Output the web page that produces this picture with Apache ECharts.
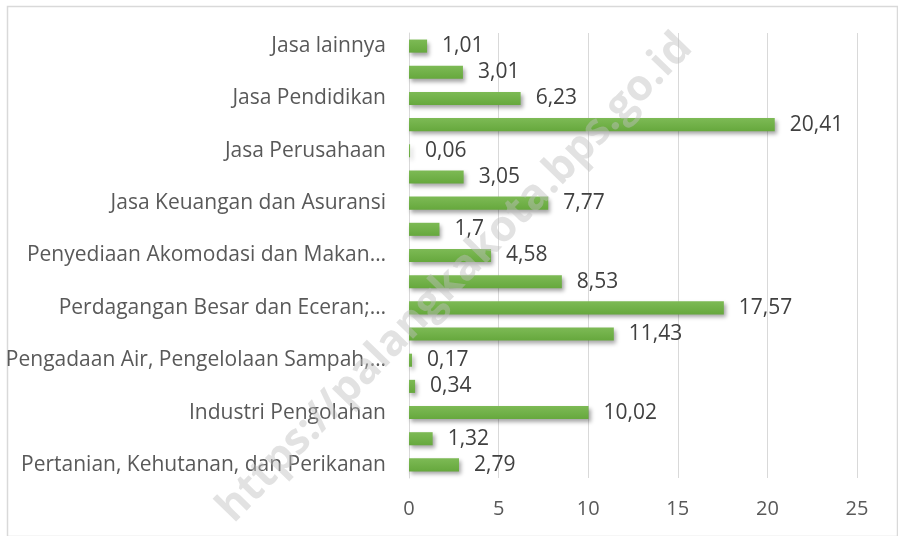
<!DOCTYPE html>
<html>
<head>
<meta charset="utf-8">
<script src="https://cdn.jsdelivr.net/npm/echarts@6/dist/echarts.min.js"></script>
<style>
  html, body { margin: 0; padding: 0; background: #fff; }
  #chart { width: 898px; height: 536px; }
</style>
</head>
<body>
<div id="chart"></div>
<script>
// sektor, urut dari bawah ke atas
var sectors = [
  'Pertanian, Kehutanan, dan Perikanan',
  'Pertambangan dan Penggalian',
  'Industri Pengolahan',
  'Pengadaan Listrik dan Gas',
  'Pengadaan Air, Pengelolaan Sampah, Limbah dan Daur Ulang',
  'Konstruksi',
  'Perdagangan Besar dan Eceran; Reparasi Mobil dan Sepeda Motor',
  'Transportasi dan Pergudangan',
  'Penyediaan Akomodasi dan Makan Minum',
  'Informasi dan Komunikasi',
  'Jasa Keuangan dan Asuransi',
  'Real Estat',
  'Jasa Perusahaan',
  'Administrasi Pemerintahan, Pertahanan dan Jaminan Sosial Wajib',
  'Jasa Pendidikan',
  'Jasa Kesehatan dan Kegiatan Sosial',
  'Jasa lainnya'
];
// teks yang terlihat di sumbu (Excel memotong label panjang)
var shownLabels = {
  'Pengadaan Air, Pengelolaan Sampah, Limbah dan Daur Ulang': 'Pengadaan Air, Pengelolaan Sampah,…',
  'Perdagangan Besar dan Eceran; Reparasi Mobil dan Sepeda Motor': 'Perdagangan Besar dan Eceran;…',
  'Penyediaan Akomodasi dan Makan Minum': 'Penyediaan Akomodasi dan Makan…'
};
var values = [2.79, 1.32, 10.02, 0.34, 0.17, 11.43, 17.57, 8.53, 4.58, 1.7, 7.77, 3.05, 0.06, 20.41, 6.23, 3.01, 1.01];
var xTicks = [0, 5, 10, 15, 20, 25];

var font = 'Open Sans';
var chart = echarts.init(document.getElementById('chart'));

var option = {
  animation: false,
  textStyle: { fontFamily: font },
  grid: { left: 409, right: 41, top: 33, bottom: 58 },
  xAxis: {
    type: 'value',
    min: xTicks[0],
    max: xTicks[xTicks.length - 1],
    interval: 5,
    axisLine: { show: false },
    axisTick: { show: false },
    splitLine: { lineStyle: { color: '#d9d9d9', width: 1 } },
    axisLabel: { color: '#595959', fontSize: 20, fontFamily: font, margin: 21 }
  },
  yAxis: {
    type: 'category',
    data: sectors,
    axisLine: { lineStyle: { color: '#d9d9d9' } },
    axisTick: { show: false },
    axisLabel: {
      interval: 1,
      color: '#595959',
      fontSize: 21,
      fontFamily: font,
      margin: 23,
      formatter: function (v) { return shownLabels[v] || v; }
    }
  },
  series: [{
    type: 'bar',
    data: values,
    barWidth: '50%',
    itemStyle: {
      color: new echarts.graphic.LinearGradient(0, 0, 0, 1, [
        { offset: 0, color: '#7dba55' },
        { offset: 1, color: '#66a83d' }
      ]),
      shadowColor: 'rgba(0,0,0,0.35)',
      shadowBlur: 4,
      shadowOffsetX: 2,
      shadowOffsetY: 3
    },
    label: {
      show: true,
      position: 'right',
      distance: 15,
      color: '#404040',
      fontSize: 21,
      fontFamily: font,
      formatter: function (p) { return String(p.value).replace('.', ','); }
    }
  }],
  graphic: [
    {
      type: 'rect',
      left: 5, top: 4,
      shape: { width: 890, height: 530 },
      style: { fill: 'none', stroke: '#d9d9d9', lineWidth: 1.5 },
      silent: true
    },
    {
      type: 'text',
      x: 455, y: 278,
      rotation: Math.PI / 4 * 1.02,
      z: 100,
      style: {
        text: 'https://palangkakota.bps.go.id',
        fill: 'rgba(190,190,190,0.45)',
        font: 'bold 43px "Open Sans"',
        align: 'center',
        verticalAlign: 'middle'
      },
      silent: true
    }
  ]
};

chart.setOption(option);
</script>
</body>
</html>
